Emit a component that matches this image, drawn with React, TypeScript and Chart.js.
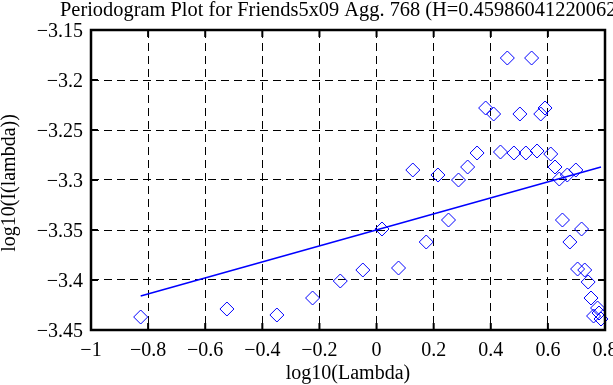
import React, { useEffect, useRef } from 'react';
import { Chart, registerables } from 'chart.js';

Chart.register(...registerables);

const FONT = "'Liberation Serif', 'Times New Roman', Times, serif";

const titleText = 'Periodogram Plot for Friends5x09 Agg. 768 (H=0.459860412200621)';
const xAxisLabel = 'log10(Lambda)';
const yAxisLabel = 'log10(I(lambda))';

// periodogram points (log10 lambda, log10 I(lambda))
const xVals = [
  -0.826, -0.524, -0.349, -0.224, -0.127, -0.048, 0.019, 0.077, 0.127, 0.174,
  0.215, 0.252, 0.287, 0.319, 0.352, 0.382, 0.41, 0.434, 0.458, 0.481,
  0.502, 0.523, 0.543, 0.562, 0.575, 0.59, 0.61, 0.625, 0.64, 0.651,
  0.668, 0.677, 0.698, 0.704, 0.718, 0.729, 0.741, 0.751, 0.76, 0.774,
  0.779, 0.786,
];
const yVals = [
  -3.437, -3.429, -3.435, -3.418, -3.401, -3.39, -3.349, -3.388, -3.29, -3.362,
  -3.295, -3.34, -3.3, -3.287, -3.273, -3.228, -3.234, -3.272, -3.178, -3.273,
  -3.234, -3.273, -3.178, -3.271, -3.234, -3.228, -3.274, -3.287, -3.299, -3.34,
  -3.295, -3.362, -3.29, -3.389, -3.349, -3.39, -3.402, -3.418, -3.436, -3.428,
  -3.433, -3.439,
];

// least-squares fit line endpoints
const fitX = [-0.826, 0.786];
const fitY = [-3.416, -3.287];

const xTickVals = [-1, -0.8, -0.6, -0.4, -0.2, 0, 0.2, 0.4, 0.6, 0.8];
const xTickLabels = ['\u22121', '\u22120.8', '\u22120.6', '\u22120.4', '\u22120.2', '0', '0.2', '0.4', '0.6', '0.8'];
const yTickVals = [-3.45, -3.4, -3.35, -3.3, -3.25, -3.2, -3.15];
const yTickLabels = ['\u22123.45', '\u22123.4', '\u22123.35', '\u22123.3', '\u22123.25', '\u22123.2', '\u22123.15'];

export default function App() {
  const ref = useRef<HTMLCanvasElement | null>(null);

  useEffect(() => {
    const canvas = ref.current;
    if (!canvas) return;

    const framePlugin = {
      id: 'matlabFrame',
      afterDraw(chart: any) {
        const { ctx, chartArea } = chart;
        const { left, right, top, bottom } = chartArea;
        const xs = chart.scales.x;
        const ys = chart.scales.y;
        ctx.save();
        ctx.setLineDash([]);
        ctx.strokeStyle = '#000';
        // inner tick marks
        ctx.lineWidth = 2;
        const tl = 7;
        ctx.beginPath();
        xTickVals.forEach((v) => {
          const p = xs.getPixelForValue(v);
          ctx.moveTo(p, bottom);
          ctx.lineTo(p, bottom - tl);
          ctx.moveTo(p, top);
          ctx.lineTo(p, top + tl);
        });
        yTickVals.forEach((v) => {
          const p = ys.getPixelForValue(v);
          ctx.moveTo(left, p);
          ctx.lineTo(left + tl, p);
          ctx.moveTo(right, p);
          ctx.lineTo(right - tl, p);
        });
        ctx.stroke();
        // frame
        ctx.lineWidth = 2.5;
        ctx.strokeRect(left, top, right - left, bottom - top);
        // texts
        ctx.fillStyle = '#000';
        ctx.font = `20.4px ${FONT}`;
        ctx.textBaseline = 'alphabetic';
        ctx.textAlign = 'left';
        ctx.fillText(titleText, 60, 16);
        ctx.font = `20px ${FONT}`;
        ctx.textAlign = 'center';
        ctx.fillText(xAxisLabel, (left + right) / 2, 379);
        ctx.save();
        ctx.translate(15, 183);
        ctx.rotate(-Math.PI / 2);
        ctx.fillText(yAxisLabel, 0, 0);
        ctx.restore();
        ctx.restore();
      },
    };

    const chart = new Chart(canvas, {
      type: 'scatter',
      data: {
        datasets: [
          {
            label: 'periodogram',
            data: xVals.map((x, i) => ({ x, y: yVals[i] })),
            showLine: false,
            pointStyle: 'rectRot',
            pointRadius: 7,
            pointHoverRadius: 7,
            pointBorderWidth: 1,
            borderColor: '#0000ff',
            pointBorderColor: '#0000ff',
            backgroundColor: 'rgba(0,0,0,0)',
            pointBackgroundColor: 'rgba(0,0,0,0)',
            clip: false,
            order: 2,
          } as any,
          {
            label: 'fit',
            data: fitX.map((x, i) => ({ x, y: fitY[i] })),
            showLine: true,
            borderColor: '#0000ff',
            borderWidth: 1.5,
            pointRadius: 0,
            pointHoverRadius: 0,
            order: 1,
          } as any,
        ],
      },
      options: {
        animation: false,
        responsive: false,
        devicePixelRatio: 1,
        events: [],
        layout: { padding: { left: 0, top: 30, right: 4, bottom: 0 } },
        plugins: {
          legend: { display: false },
          tooltip: { enabled: false },
          title: { display: false },
        },
        scales: {
          x: {
            type: 'linear',
            min: -1,
            max: 0.8,
            afterBuildTicks: (s: any) => {
              s.ticks = xTickVals.map((v) => ({ value: v }));
            },
            afterFit: (s: any) => {
              s.height = 55;
              s.paddingLeft = 0;
              s.paddingRight = 0;
            },
            ticks: {
              autoSkip: false,
              maxRotation: 0,
              minRotation: 0,
              padding: 9,
              color: '#000',
              font: { family: FONT, size: 20 },
              callback: (_v: any, i: number) => xTickLabels[i],
            },
            grid: { color: '#000', lineWidth: 1, drawTicks: false },
            border: { display: false, dash: [8, 5] },
          },
          y: {
            type: 'linear',
            min: -3.45,
            max: -3.15,
            afterBuildTicks: (s: any) => {
              s.ticks = yTickVals.map((v) => ({ value: v }));
            },
            afterFit: (s: any) => {
              s.width = 91;
              s.paddingTop = 0;
              s.paddingBottom = 0;
            },
            ticks: {
              autoSkip: false,
              padding: 8,
              labelOffset: 2,
              color: '#000',
              font: { family: FONT, size: 20 },
              callback: (_v: any, i: number) => yTickLabels[i],
            },
            grid: { color: '#000', lineWidth: 1, drawTicks: false },
            border: { display: false, dash: [8, 5] },
          },
        },
      },
      plugins: [framePlugin],
    } as any);

    return () => chart.destroy();
  }, []);

  return (
    <div style={{ position: 'fixed', left: 0, top: 0, width: 613, height: 385, background: '#fff' }}>
      <canvas ref={ref} width={613} height={385} style={{ display: 'block', width: 613, height: 385 }} />
    </div>
  );
}
